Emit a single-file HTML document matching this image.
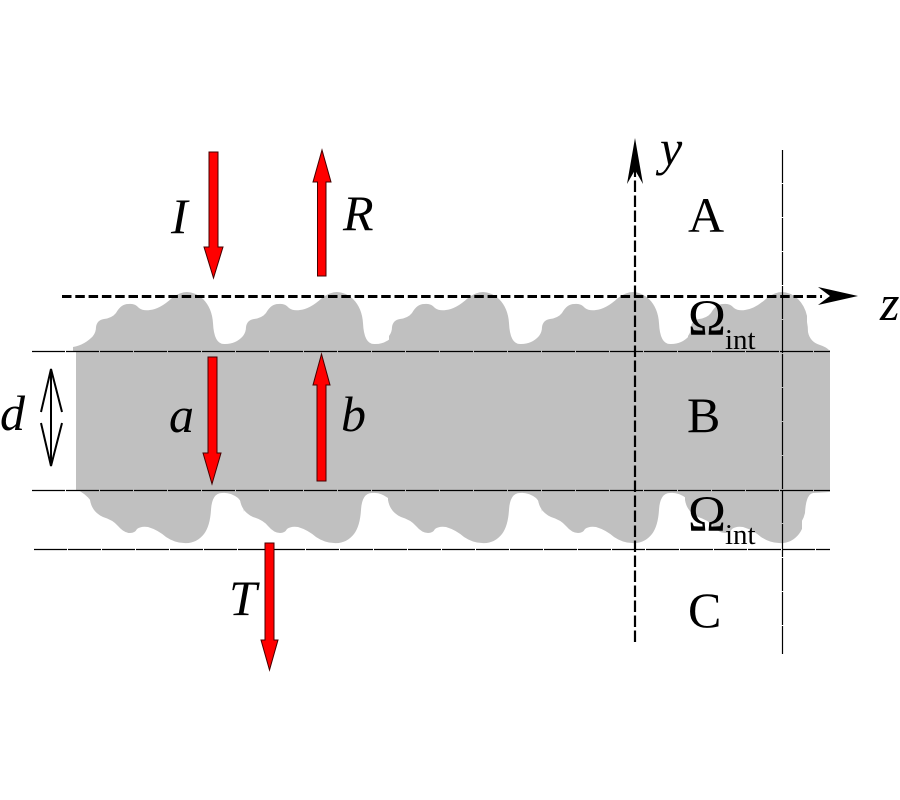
<!DOCTYPE html>
<html>
<head>
<meta charset="utf-8">
<style>
html,body{margin:0;padding:0;background:#fff;width:900px;height:800px;overflow:hidden}
svg{display:block}
text{font-family:"Liberation Serif",serif;fill:#000}
.i{font-style:italic}
</style>
</head>
<body>
<svg width="900" height="800" viewBox="0 0 900 800" xmlns="http://www.w3.org/2000/svg">
<defs>
<path id="top" d="M93,352 L93,336 Q96,332 96,327 Q97,320 104,319 Q112,318 116,313 Q121,304 128,304 Q135,303 139,308 Q143,311 150,310 Q160,309 172,298 Q180,292 187,292 Q195,292 203,299 Q212,308 213,323 Q214,345 225,344 Q236,344 243,336 L244,352 Z"/>
<path id="bot" d="M90,489 L90,500 Q92,512 103,517 Q113,520 118,526 Q124,533 130,533 Q135,533 137,529 Q141,526 148,527 Q158,530 166,537 Q175,543 184,543 Q196,544 204,534 Q210,526 211,510 Q212,493 222,493 Q230,492 238,498 Q243,503 244,512 L246,489 Z"/>
<clipPath id="ct"><rect x="0" y="280" width="807" height="80"/></clipPath>
<clipPath id="cb"><rect x="0" y="480" width="802" height="80"/></clipPath>
</defs>

<!-- gray body -->
<g fill="#c0c0c0">
<rect x="76" y="350" width="754" height="141"/>
<path d="M73,347 Q85,345 94,335 L94,352 L73,352 Z"/>
<use href="#top"/>
<use href="#top" x="150"/>
<use href="#top" x="296"/>
<use href="#top" x="446"/>
<g clip-path="url(#ct)"><use href="#top" x="595"/></g>
<path d="M800,352 L800,305 L804,312 Q808,322 808,332 Q810,342 820,345 Q826,347 829,350 L829,352 Z"/>
<path d="M76,489 Q86,494 91,501 L94,510 L94,489 Z"/>
<use href="#bot"/>
<use href="#bot" x="150"/>
<use href="#bot" x="298"/>
<use href="#bot" x="448"/>
<g clip-path="url(#cb)"><use href="#bot" x="595"/></g>
<path d="M795,489 L795,530 Q803,522 805,513 Q806,494 813,493 L830,492 L830,489 Z"/>
</g>

<!-- thin lines -->
<g stroke="#000" stroke-width="1.2" fill="none" stroke-dasharray="33 1">
<line x1="32" y1="351.5" x2="830" y2="351.5"/>
<line x1="32" y1="490.5" x2="830" y2="490.5"/>
<line x1="34" y1="549.5" x2="830" y2="549.5"/>
<line x1="782.5" y1="150" x2="782.5" y2="654"/>
</g>

<!-- z axis -->
<line x1="62" y1="296.5" x2="822" y2="296.5" stroke="#000" stroke-width="3" stroke-dasharray="9.5 3.8"/>
<polygon points="858,296 818,287 830,296 818,305" fill="#000"/>

<!-- y axis -->
<line x1="635" y1="642" x2="635" y2="170" stroke="#000" stroke-width="2.2" stroke-dasharray="11.5 3.5"/>
<polygon points="635,138 627,184 635,170 643,184" fill="#000"/>

<!-- d arrow -->
<g stroke="#000" fill="none">
<line x1="51" y1="370" x2="51" y2="465" stroke-width="2"/>
<polyline points="41,412 51,369 62,412" stroke-width="2"/>
<polyline points="41,423 51,466 62,423" stroke-width="2"/>
</g>

<!-- red arrows -->
<g fill="#f00" stroke="#400" stroke-width="1">
<polygon points="209,152 218,152 218,247 223,247 213.5,278 204,247 209,247"/>
<polygon points="317.5,276 326,276 326,182 331,182 322,150 313,182 317.5,182"/>
<polygon points="208,357 217,357 217,453 221,453 212,484 203,453 208,453"/>
<polygon points="317,481 326,481 326,385 330,385 321.5,354 313,385 317,385"/>
<polygon points="265,543 274,543 274,640 278,640 269.5,670 261,640 265,640"/>
</g>

<!-- labels -->
<g font-size="50">
<text class="i" x="171" y="233">I</text>
<text class="i" x="343" y="230">R</text>
<text x="688" y="232">A</text>
<text x="687" y="432">B</text>
<text x="688" y="627">C</text>
<text class="i" x="169" y="432">a</text>
<text class="i" x="341" y="431">b</text>
<text class="i" x="0" y="430">d</text>
<text class="i" x="229" y="615">T</text>
<text class="i" x="660" y="165">y</text>
<text class="i" x="880" y="320">z</text>
<text x="688" y="335" font-size="51">Ω</text>
<text x="688" y="531" font-size="51">Ω</text>
</g>
<g font-size="29">
<text x="725" y="349">int</text>
<text x="725" y="544">int</text>
</g>
</svg>
</body>
</html>
